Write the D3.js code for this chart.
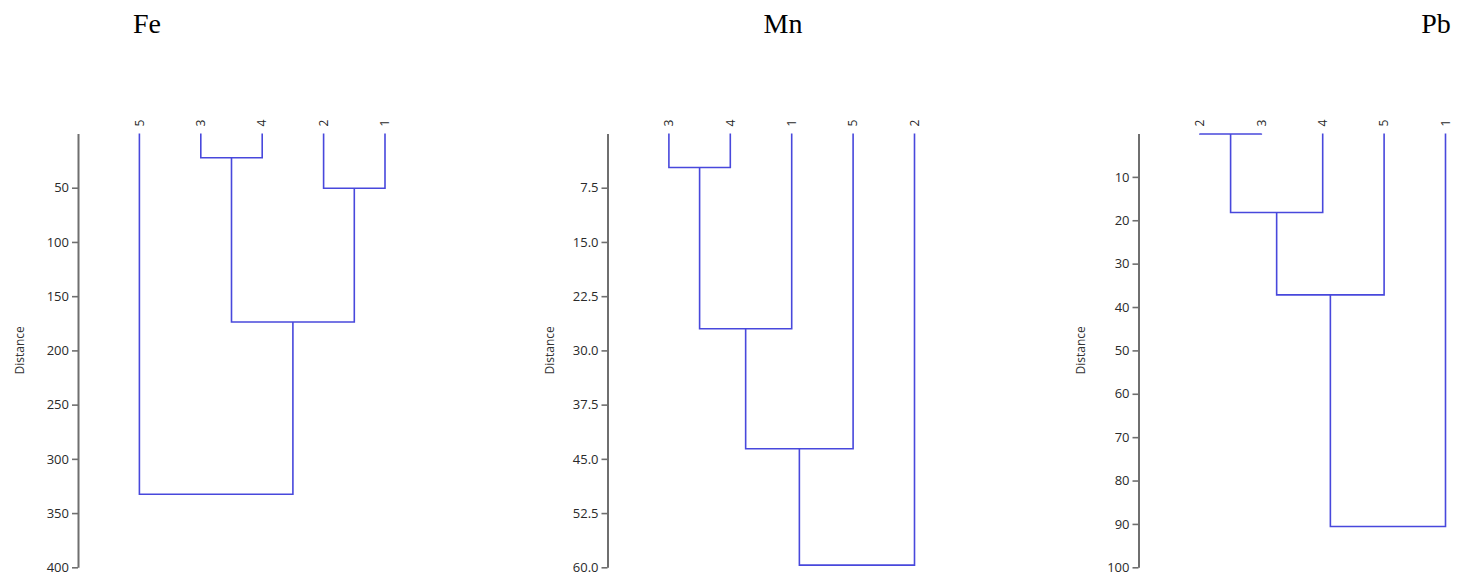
<!DOCTYPE html>
<html>
<head>
<meta charset="utf-8">
<script src="https://cdn.jsdelivr.net/npm/d3@7"></script>
<style>
  html, body { margin: 0; padding: 0; background: #fff; }
  svg { display: block; }
</style>
</head>
<body>
<svg id="chart" width="1457" height="578"></svg>
<script>
// ---- data ----
const titles = ["Fe", "Mn", "Pb"];

const feLeaves = ["5", "3", "4", "2", "1"];
const feMerges = [["3", "4", 22.3], ["2", "1", 50.5], ["m0", "m1", 173.8], ["5", "m2", 332.7]];
const feTicks = [50, 100, 150, 200, 250, 300, 350, 400];

const mnLeaves = ["3", "4", "1", "5", "2"];
const mnMerges = [["3", "4", 4.7], ["m0", "1", 27.0], ["m1", "5", 43.6], ["m2", "2", 59.7]];
const mnTicks = [7.5, 15.0, 22.5, 30.0, 37.5, 45.0, 52.5, 60.0];

const pbLeaves = ["2", "3", "4", "5", "1"];
const pbMerges = [["2", "3", 0.1], ["m0", "4", 18.2], ["m1", "5", 37.2], ["m2", "1", 90.6]];
const pbTicks = [10, 20, 30, 40, 50, 60, 70, 80, 90, 100];

const axisLabel = "Distance";

// ---- layout ----
const panels = [
  { title: titles[0], leaves: feLeaves, merges: feMerges, ticks: feTicks, max: 400, fmt: d3.format("d"), axisX: 78, titleX: 147 },
  { title: titles[1], leaves: mnLeaves, merges: mnMerges, ticks: mnTicks, max: 60, fmt: d3.format(".1f"), axisX: 607.5, titleX: 783 },
  { title: titles[2], leaves: pbLeaves, merges: pbMerges, ticks: pbTicks, max: 100, fmt: d3.format("d"), axisX: 1138.5, titleX: 1436 }
];
const yTop = 133.5, yBottom = 567.3, step = 61.4;
const lineColor = "#4848dc";

const svg = d3.select("#chart");

panels.forEach(p => {
  const g = svg.append("g");

  // title
  g.append("text")
    .attr("x", p.titleX).attr("y", 33)
    .attr("text-anchor", "middle")
    .attr("font-family", "'Liberation Serif', 'Times New Roman', serif")
    .attr("font-size", 28)
    .attr("fill", "#000")
    .text(p.title);

  const y = d3.scaleLinear().domain([0, p.max]).range([yTop, yBottom]);
  const x = d3.scalePoint().domain(p.leaves).range([p.axisX + step, p.axisX + step * p.leaves.length]);

  // axis
  const ax = g.append("g")
    .attr("transform", `translate(${p.axisX},0)`)
    .call(d3.axisLeft(y).tickValues(p.ticks).tickFormat(p.fmt).tickSize(6).tickSizeOuter(0).tickPadding(3));
  ax.select(".domain").attr("stroke", "#6f6f6f").attr("stroke-width", 2);
  ax.selectAll(".tick line").attr("stroke", "#6f6f6f").attr("stroke-width", 1.6);
  ax.selectAll(".tick text")
    .attr("fill", "#2a2a2a")
    .attr("font-family", "'Open Sans', 'Noto Sans', sans-serif")
    .attr("font-size", 13);

  // axis label
  g.append("text")
    .attr("transform", `translate(${p.axisX - 58},${(yTop + yBottom) / 2}) rotate(-90)`)
    .attr("text-anchor", "middle")
    .attr("dy", "0.35em")
    .attr("font-family", "'Open Sans', 'Noto Sans', sans-serif")
    .attr("font-size", 12)
    .attr("fill", "#333")
    .text(axisLabel);

  // nodes
  const nodes = {};
  p.leaves.forEach(l => { nodes[l] = { x: x(l), h: 0 }; });
  const segs = [];
  p.merges.forEach((m, i) => {
    const a = nodes[m[0]], b = nodes[m[1]];
    const node = { x: (a.x + b.x) / 2, h: m[2] };
    nodes["m" + i] = node;
    segs.push({ a, b, h: m[2] });
  });

  g.append("g").selectAll("path").data(segs).join("path")
    .attr("d", s => {
      const py = y(s.h);
      return `M${s.a.x},${y(s.a.h)}V${py}H${s.b.x}V${y(s.b.h)}`;
    })
    .attr("fill", "none")
    .attr("stroke", lineColor)
    .attr("stroke-width", 1.6);

  // leaf labels
  g.append("g").selectAll("text").data(p.leaves).join("text")
    .attr("transform", d => `translate(${x(d)},${yTop - 7}) rotate(-90)`)
    .attr("text-anchor", "start")
    .attr("dy", "0.35em")
    .attr("font-family", "'Open Sans', 'Noto Sans', sans-serif")
    .attr("font-size", 12)
    .attr("fill", "#2a2a2a")
    .text(d => d);
});
</script>
</body>
</html>
